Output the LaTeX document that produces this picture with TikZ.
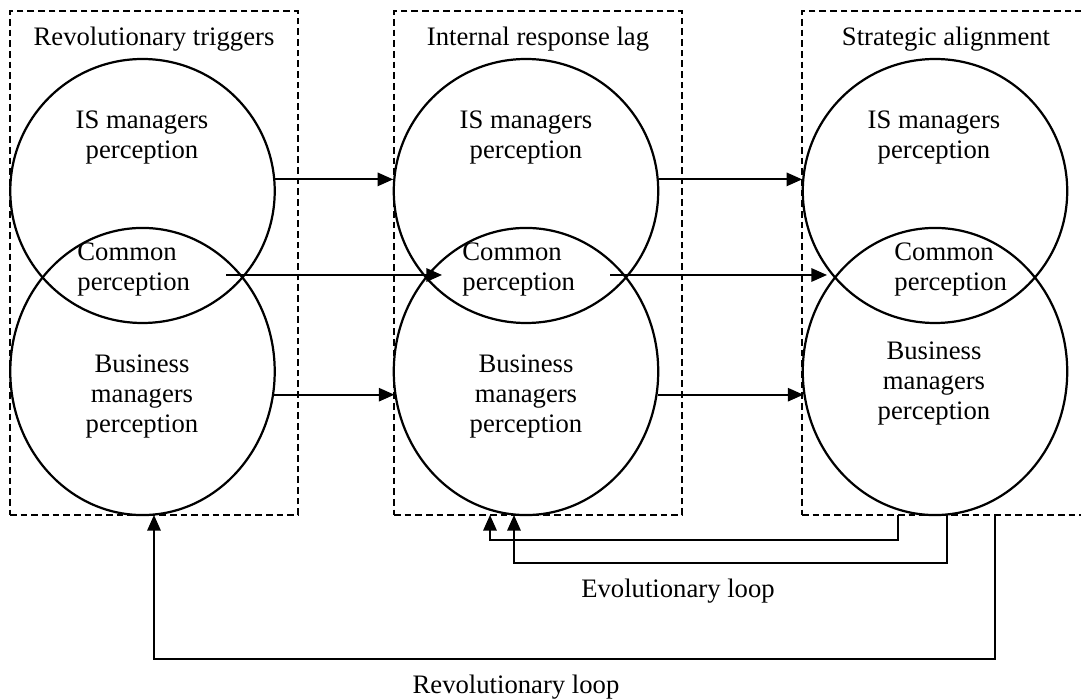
\documentclass[tikz,border=0pt]{standalone}
\usepackage{fontspec}
\setmainfont{Liberation Serif}
\usetikzlibrary{shapes.geometric,arrows.meta,positioning,calc}

\begin{document}
\begin{tikzpicture}[
    x=0.45pt, y=-0.45pt,
    font=\fontsize{12}{13.5}\selectfont,
    stage/.style={draw, dash pattern=on 3pt off 1.8pt, line width=0.75pt, minimum width=129.6pt, minimum height=226.8pt, inner sep=0pt},
    view/.style={draw, ellipse, line width=1pt, inner sep=0pt, minimum width=119pt, minimum height=118.8pt},
    joint/.style={view, minimum height=129.2pt},
    caption/.style={anchor=base, align=center, inner sep=0pt},
    flow/.style={-{Triangle[length=7pt,width=6pt]}, line width=0.85pt}
]
\useasboundingbox[fill=white] (0,0) rectangle (1081,699);

% stages
\node[stage] (box1) at (154,263) {};
\node[stage] (box2) at (538,263) {};
\node[stage] (box3) at (946,263) {};
\node[caption] (t1) at (154,46) {Revolutionary triggers};
\node[caption] (t2) at (538,46) {Internal response lag};
\node[caption] (t3) at (946,46) {Strategic alignment};

% perceptions
\foreach \n/\x in {1/142.5, 2/526, 3/935} {
  \node[view] (is\n) at (\x,191) {};
  \node[joint] (bus\n) at (\x,371.5) {};
}
\node[caption] (is1txt) at (142,159) {IS managers\\perception};
\node[caption] (is2txt) at (526,159) {IS managers\\perception};
\node[caption] (is3txt) at (934,159) {IS managers\\perception};
\node[caption, anchor=base west, align=left] (com1) at (77,291) {Common\\perception};
\node[caption, anchor=base west, align=left] (com2) at (462,291) {Common\\perception};
\node[caption, anchor=base west, align=left] (com3) at (894,291) {Common\\perception};
\node[caption] (bus1txt) at (142,433) {Business\\managers\\perception};
\node[caption] (bus2txt) at (526,433) {Business\\managers\\perception};
\node[caption] (bus3txt) at (934,420) {Business\\managers\\perception};

% forward arrows
\foreach \a/\b in {is1/is2, is2/is3}
  \draw[flow] (\a.5) -- (\b.175);
\foreach \a/\b in {bus1/bus2, bus2/bus3}
  \draw[flow] (\a.-10) -- (\b.190);
\coordinate (com1out) at (226,275);
\coordinate (com2in) at (442,275);
\coordinate (com2out) at (610,275);
\coordinate (com3in) at (827,275);
\foreach \a/\b in {com1out/com2in, com2out/com3in}
  \draw[flow] (\a) -- (\b);

% loops
\coordinate (evo1) at (898,515);
\coordinate (evo1end) at (490,515);
\coordinate (evo2) at (947,515);
\coordinate (evo2end) at (514,515);
\coordinate (rev) at (995,515);
\coordinate (revend) at (154,515);
\draw[flow] (evo1) -- ++(0,25) -| (evo1end);
\draw[flow] (evo2) -- ++(0,48) -| (evo2end);
\draw[flow] (rev) -- ++(0,144) -| (revend);
\node[caption] (evolbl) at (678,597) {Evolutionary loop};
\node[caption] (revlbl) at (516,693) {Revolutionary loop};
\end{tikzpicture}
\end{document}
